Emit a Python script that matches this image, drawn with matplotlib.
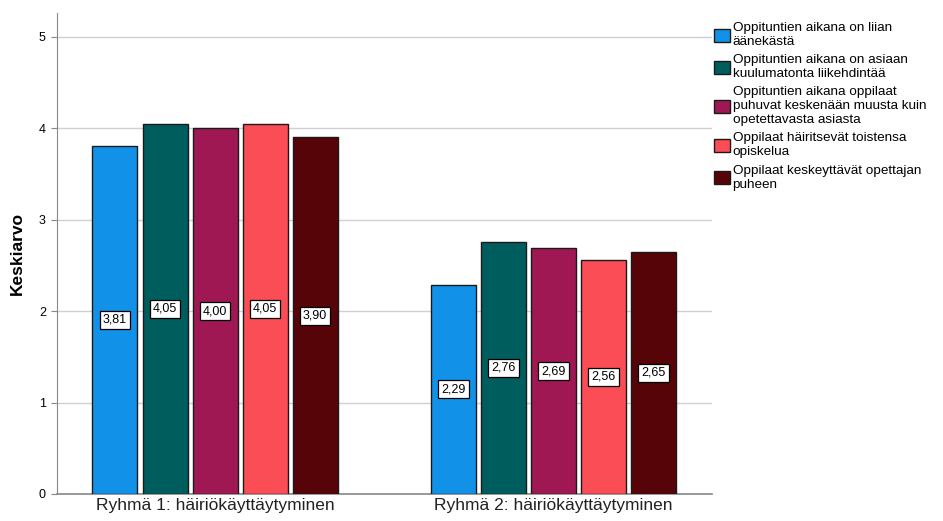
import numpy as np
import matplotlib.pyplot as plt

plt.rcParams['font.family'] = ['Liberation Sans', 'DejaVu Sans']

groups = ['Ryhmä 1: häiriökäyttäytyminen', 'Ryhmä 2: häiriökäyttäytyminen']
series = ['Oppituntien aikana on liian\näänekästä',
          'Oppituntien aikana on asiaan\nkuulumatonta liikehdintää',
          'Oppituntien aikana oppilaat\npuhuvat keskenään muusta kuin\nopetettavasta asiasta',
          'Oppilaat häiritsevät toistensa\nopiskelua',
          'Oppilaat keskeyttävät opettajan\npuheen']
values = [[3.81, 2.29],
          [4.05, 2.76],
          [4.00, 2.69],
          [4.05, 2.56],
          [3.90, 2.65]]
colors = ['#1192E8', '#005D5D', '#9F1853', '#FA4D56', '#570408']

fig = plt.figure(figsize=(9.43, 5.21), dpi=100)
ax = fig.add_axes([57 / 943, 27 / 521, 655 / 943, 481 / 521])

centers = np.array([0.0, 6.77])
width = 0.9
handles = []
for i, (name, vals, c) in enumerate(zip(series, values, colors)):
    x = centers + (i - 2) * 1.0
    bars = ax.bar(x, vals, width=width, color=c, edgecolor='#1a1a1a',
                  linewidth=1.0, zorder=3, label=name)
    handles.append(bars)
    for xi, v in zip(x, vals):
        ax.text(xi, v / 2, f'{v:.2f}'.replace('.', ','), ha='center', va='center',
                fontsize=9, zorder=4,
                bbox=dict(boxstyle='square,pad=0.25', fc='white', ec='black', lw=0.9))

ax.set_xlim(-3.16, 9.94)
ax.set_ylim(0, 5.26)
ax.set_yticks([0, 1, 2, 3, 4, 5])
ax.set_yticklabels(['0', '1', '2', '3', '4', '5'], fontsize=9)
ax.yaxis.grid(True, color='#d0d0d0', linewidth=1.0, zorder=0)
ax.set_axisbelow(True)
ax.set_xticks(centers)
ax.set_xticklabels(groups, fontsize=12.5, color='#222222')
ax.tick_params(axis='x', length=0, pad=3)
ax.tick_params(axis='y', length=4, color='#888888', pad=4)
for s in ['top', 'right']:
    ax.spines[s].set_visible(False)
ax.spines['left'].set_color('#888888')
ax.spines['bottom'].set_color('#888888')
ax.spines['bottom'].set_linewidth(1.2)
ax.set_ylabel('Keskiarvo', fontsize=12.5, fontweight='bold', labelpad=10)

leg = fig.legend(handles=handles, labels=series, loc='upper left',
                 bbox_to_anchor=(709 / 943, 1 - 17 / 521), frameon=False,
                 fontsize=9.7, handlelength=1.15, handleheight=1.15,
                 handletextpad=0.2, labelspacing=0.45, borderaxespad=0)
for t in leg.get_texts():
    t.set_linespacing(1.22)

fig.savefig('out.png', dpi=100)
